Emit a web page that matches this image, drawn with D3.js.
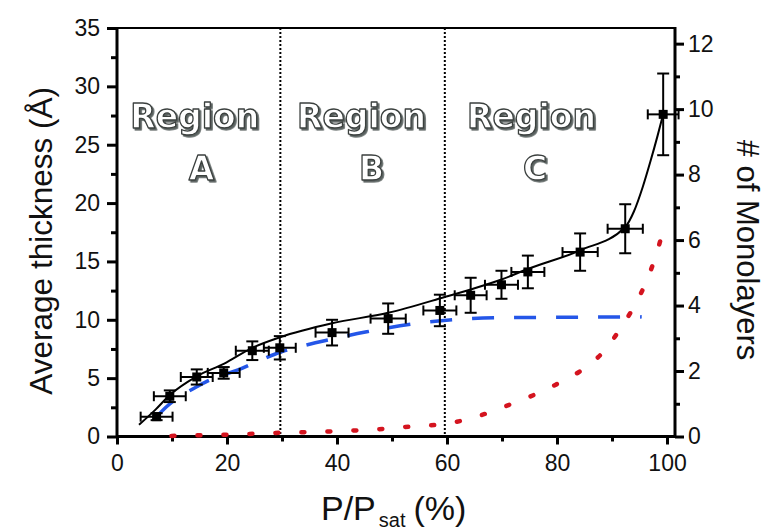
<!DOCTYPE html>
<html>
<head>
<meta charset="utf-8">
<script src="https://cdn.jsdelivr.net/npm/d3@7"></script>
<style>
  html, body { margin: 0; padding: 0; background: #fff; }
  svg { display: block; font-family: "Liberation Sans", Arial, sans-serif; }
</style>
</head>
<body>
<svg id="chart" width="764" height="531"></svg>
<script>
// Measured film thickness vs. relative pressure
const pressure  = [7.2, 9.6, 14.5, 19.4, 24.6, 29.6, 39.1, 49.3, 58.7, 64.3, 69.9, 74.7, 84.2, 92.4, 99.3];
const thickness = [1.7, 3.45, 5.1, 5.45, 7.35, 7.6, 8.9, 10.1, 10.8, 12.1, 13.0, 14.1, 15.8, 17.8, 27.6];
const xError    = [2.9, 2.9, 2.9, 2.9, 3.0, 2.9, 3.0, 3.2, 3.0, 2.9, 3.0, 3.0, 3.2, 3.2, 2.8];
const yError    = [0.3, 0.5, 0.65, 0.5, 0.8, 1.0, 1.1, 1.3, 1.35, 1.5, 1.2, 1.4, 1.6, 2.1, 3.5];

// Smooth fit through the measurements
const fitX = [4.0, 7.0, 9.6, 14.5, 19.5, 24.6, 29.6, 39.1, 49.3, 59.6, 64.3, 69.9, 74.7, 84.2, 92.4, 94.0, 95.6, 97.0, 98.3, 99.3];
const fitY = [1.0, 2.3, 3.55, 5.15, 6.25, 7.6, 8.5, 9.7, 10.6, 11.95, 12.6, 13.45, 14.35, 15.95, 17.95, 19.3, 21.4, 23.6, 25.8, 27.6];

// Saturating (blue dashed) component
const satX = [7.2, 9.0, 14.5, 17.5, 22.0, 25.4, 29.9, 33.3, 38.7, 45.4, 54.5, 61.8, 69.0, 84.2, 95.4];
const satY = [1.7, 2.55, 4.26, 4.98, 5.7, 6.4, 7.26, 7.7, 8.3, 8.97, 9.7, 10.03, 10.17, 10.22, 10.25];

// Diverging (red dotted) component
const divX = [9.9, 14.5, 19.3, 23.8, 28.4, 33.0, 37.8, 42.4, 46.9, 51.8, 56.3, 60.9, 65.7, 70.1, 75.0, 79.6, 84.2, 88.5, 92.0, 94.2, 96.2, 97.8, 99.5];
const divY = [0.05, 0.1, 0.15, 0.22, 0.3, 0.36, 0.42, 0.5, 0.6, 0.8, 0.92, 1.18, 1.75, 2.5, 3.4, 4.4, 5.6, 7.3, 9.6, 11.3, 13.25, 15.25, 18.0];

// Region boundaries and names
const regionBounds = [29.7, 59.6];
const regionNames  = ["A", "B", "C"];
const regionWord   = "Region";

// Tick values
const xMajor = [0, 20, 40, 60, 80, 100];
const xMinor = [10, 30, 50, 70, 90];
const yMajor = [0, 5, 10, 15, 20, 25, 30, 35];
const yMinor = [2.5, 7.5, 12.5, 17.5, 22.5, 27.5, 32.5];
const mMajor = [0, 2, 4, 6, 8, 10, 12];
const mMinor = [1, 3, 5, 7, 9, 11];
const monolayer = 2.805; // Å per monolayer

const svg = d3.select("#chart");
const L = 117, R = 675, T = 28, B = 436.5;

const x  = d3.scaleLinear().domain([0, 101.45]).range([L, R]);
const y  = d3.scaleLinear().domain([0, 35]).range([B, T]);
const yM = d3.scaleLinear().domain([0, 35 / monolayer]).range([B, T]);

const tickFont = "23px";

// drop shadow for the region captions
const defs = svg.append("defs");
defs.append("filter").attr("id", "capShadow")
  .attr("x", "-10%").attr("y", "-10%").attr("width", "130%").attr("height", "140%")
  .append("feDropShadow")
  .attr("dx", 1.8).attr("dy", 1.8).attr("stdDeviation", 0.4)
  .attr("flood-color", "#5a6260").attr("flood-opacity", 1);

// ---- axes ----
function styleAxis(g) {
  g.selectAll("path.domain").remove();
  g.selectAll(".tick line").attr("stroke", "#000").attr("stroke-width", 3);
  g.selectAll("text").attr("font-size", tickFont).attr("fill", "#111")
    .attr("font-family", "'Liberation Sans', Arial, sans-serif");
}

// minor ticks first, then major with labels
svg.append("g").attr("transform", `translate(0,${B})`)
  .call(d3.axisBottom(x).tickValues(xMinor).tickSize(5).tickFormat("").tickSizeOuter(0))
  .call(styleAxis);
svg.append("g").attr("transform", `translate(0,${B})`)
  .call(d3.axisBottom(x).tickValues(xMajor).tickSize(8).tickPadding(10).tickSizeOuter(0))
  .call(styleAxis);

svg.append("g").attr("transform", `translate(${L},0)`)
  .call(d3.axisLeft(y).tickValues(yMinor).tickSize(6).tickFormat("").tickSizeOuter(0))
  .call(styleAxis);
svg.append("g").attr("transform", `translate(${L},0)`)
  .call(d3.axisLeft(y).tickValues(yMajor).tickSize(10).tickPadding(7).tickSizeOuter(0))
  .call(styleAxis);

svg.append("g").attr("transform", `translate(${R},0)`)
  .call(d3.axisRight(yM).tickValues(mMinor).tickSize(5).tickFormat("").tickSizeOuter(0))
  .call(styleAxis);
svg.append("g").attr("transform", `translate(${R},0)`)
  .call(d3.axisRight(yM).tickValues(mMajor).tickSize(9).tickPadding(4).tickSizeOuter(0))
  .call(styleAxis);

// frame
svg.append("path")
  .attr("d", `M${L},${B}H${R}M${L},${T - 1}V${B + 1.5}M${R},${T - 1}V${B + 1.5}`)
  .attr("stroke", "#000").attr("stroke-width", 3).attr("fill", "none");
svg.append("line").attr("x1", L).attr("x2", R).attr("y1", T).attr("y2", T)
  .attr("stroke", "#000").attr("stroke-width", 2);

// region boundaries
svg.selectAll("line.bound").data(regionBounds).join("line")
  .attr("class", "bound")
  .attr("x1", d => x(d)).attr("x2", d => x(d))
  .attr("y1", T).attr("y2", B)
  .attr("stroke", "#000").attr("stroke-width", 2).attr("stroke-dasharray", "2,2");

// ---- curves ----
const lineOf = (xs, ys) => d3.line().curve(d3.curveMonotoneX)
  .x((d, i) => x(xs[i])).y((d, i) => y(ys[i]))(xs);

svg.append("path").attr("d", lineOf(divX, divY))
  .attr("fill", "none").attr("stroke", "#d4141f").attr("stroke-width", 4.5)
  .attr("stroke-linecap", "round").attr("stroke-dasharray", "3,23");

svg.append("path").attr("d", lineOf(satX, satY))
  .attr("fill", "none").attr("stroke", "#2456e8").attr("stroke-width", 3.5)
  .attr("stroke-dasharray", "22,20");

svg.append("path").attr("d", lineOf(fitX, fitY))
  .attr("fill", "none").attr("stroke", "#000").attr("stroke-width", 2);

// ---- points with error bars ----
const pts = svg.append("g").selectAll("g").data(pressure).join("g");
pts.append("line")
  .attr("x1", (d, i) => x(d - xError[i])).attr("x2", (d, i) => x(d + xError[i]))
  .attr("y1", (d, i) => y(thickness[i])).attr("y2", (d, i) => y(thickness[i]))
  .attr("stroke", "#000").attr("stroke-width", 2);
pts.append("line")
  .attr("x1", d => x(d)).attr("x2", d => x(d))
  .attr("y1", (d, i) => y(thickness[i] - yError[i])).attr("y2", (d, i) => y(thickness[i] + yError[i]))
  .attr("stroke", "#000").attr("stroke-width", 2);
// caps
[-1, 1].forEach(s => {
  pts.append("line")
    .attr("x1", d => x(d) - 6).attr("x2", d => x(d) + 6)
    .attr("y1", (d, i) => y(thickness[i] + s * yError[i])).attr("y2", (d, i) => y(thickness[i] + s * yError[i]))
    .attr("stroke", "#000").attr("stroke-width", 2);
  pts.append("line")
    .attr("x1", (d, i) => x(d + s * xError[i])).attr("x2", (d, i) => x(d + s * xError[i]))
    .attr("y1", (d, i) => y(thickness[i]) - 5).attr("y2", (d, i) => y(thickness[i]) + 5)
    .attr("stroke", "#000").attr("stroke-width", 2);
});
pts.append("rect")
  .attr("x", d => x(d) - 4.5).attr("y", (d, i) => y(thickness[i]) - 4.5)
  .attr("width", 9).attr("height", 9).attr("fill", "#000");

// ---- region labels: white letters, dark outline, soft drop shadow ----
const regionCentres = [
  { word: 194.7, letter: 201.5 },
  { word: 361.5, letter: 371.5 },
  { word: 531.5, letter: 535 }
];
const caps = svg.append("g")
  .attr("font-family", "'DejaVu Sans', sans-serif")
  .attr("font-weight", "bold").attr("font-size", "33px")
  .attr("text-anchor", "middle")
  .attr("fill", "#fff").attr("stroke", "#3a3f3e").attr("stroke-width", 1.3)
  .attr("stroke-linejoin", "round")
  .attr("filter", "url(#capShadow)");
regionNames.forEach((n, i) => {
  caps.append("text").attr("x", regionCentres[i].word).attr("y", 128).text(regionWord);
  caps.append("text").attr("x", regionCentres[i].letter).attr("y", 180).text(n);
});

// ---- axis titles ----
svg.append("text")
  .attr("transform", `translate(51.5,${(86.7 + 395) / 2}) rotate(-90)`)
  .attr("text-anchor", "middle").attr("font-size", "31.5px").attr("fill", "#111")
  .text("Average thickness (Å)");

svg.append("text")
  .attr("transform", `translate(737,250) rotate(90)`)
  .attr("text-anchor", "middle").attr("font-size", "31px").attr("fill", "#111")
  .text("# of Monolayers");

const xt = svg.append("text").attr("x", 321).attr("y", 520)
  .attr("font-size", "34px").attr("fill", "#111");
xt.append("tspan").text("P/P");
xt.append("tspan").attr("dy", 7).attr("dx", 3).attr("font-size", "20px").text("sat");
xt.append("tspan").attr("dy", -7).attr("dx", 8).text("(%)");
</script>
</body>
</html>
